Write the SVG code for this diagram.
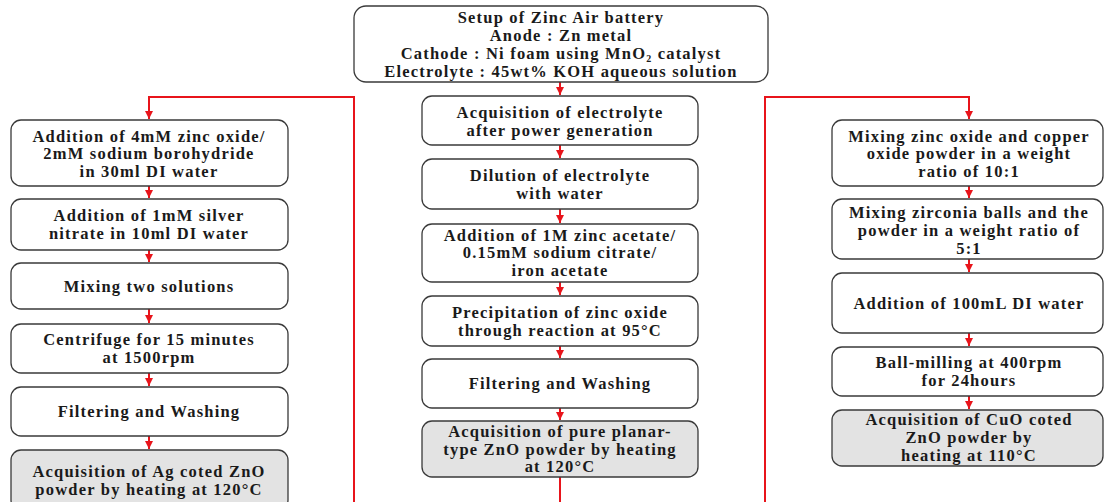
<svg xmlns="http://www.w3.org/2000/svg" width="1105" height="502" viewBox="0 0 1105 502">
<style>
.box{fill:#fff;stroke:#3a3a3a;stroke-width:1.3}
.fin{fill:#e3e3e3;stroke:#3a3a3a;stroke-width:1.3}
text{font-family:"Liberation Serif","Times New Roman",serif;font-weight:bold;font-size:16.5px;letter-spacing:1.2px;fill:#1a1a1a;text-anchor:middle}
.c{fill:none;stroke:#e8141b;stroke-width:2}
</style>
<defs>
<marker id="ah" viewBox="0 0 10 10" refX="10" refY="5" markerWidth="4" markerHeight="4" orient="auto" markerUnits="strokeWidth">
<path d="M0,0 L10,5 L0,10 z" fill="#e8141b"/>
</marker>
</defs>
<g id="connectors">
<path class="c" d="M560,82 V95" marker-end="url(#ah)"/>
<path class="c" d="M354,502 V97 H149 V119" marker-end="url(#ah)"/>
<path class="c" d="M765,502 V97 H969 V119" marker-end="url(#ah)"/>
<path class="c" d="M560,145 V158" marker-end="url(#ah)"/>
<path class="c" d="M560,209 V223" marker-end="url(#ah)"/>
<path class="c" d="M560,282 V295" marker-end="url(#ah)"/>
<path class="c" d="M560,346 V358" marker-end="url(#ah)"/>
<path class="c" d="M560,408 V420" marker-end="url(#ah)"/>
<path class="c" d="M560,477 V502"/>
<path class="c" d="M149,186 V198" marker-end="url(#ah)"/>
<path class="c" d="M149,250 V262" marker-end="url(#ah)"/>
<path class="c" d="M149,309 V323" marker-end="url(#ah)"/>
<path class="c" d="M149,373 V386" marker-end="url(#ah)"/>
<path class="c" d="M149,436 V449" marker-end="url(#ah)"/>
<path class="c" d="M969,186 V198" marker-end="url(#ah)"/>
<path class="c" d="M969,259 V272" marker-end="url(#ah)"/>
<path class="c" d="M969,333 V346" marker-end="url(#ah)"/>
<path class="c" d="M969,396 V409" marker-end="url(#ah)"/>
</g>
<g id="top">
<rect class="box" x="354" y="6" width="414" height="76" rx="12"/>
<text x="561" y="23">Setup of Zinc Air battery</text>
<text x="561" y="41">Anode : Zn metal</text>
<text x="561" y="59">Cathode : Ni foam using MnO<tspan font-size="10" dy="2.5">2</tspan><tspan dy="-2.5"> catalyst</tspan></text>
<text x="561" y="77">Electrolyte : 45wt% KOH aqueous solution</text>
</g>
<g id="m1"><rect class="box" x="422" y="96" width="276" height="49" rx="10"/>
<text x="560" y="118">Acquisition of electrolyte</text><text x="560" y="136">after power generation</text></g>
<g id="m2"><rect class="box" x="422" y="159" width="276" height="50" rx="10"/>
<text x="560" y="181">Dilution of electrolyte</text><text x="560" y="199">with water</text></g>
<g id="m3"><rect class="box" x="422" y="224" width="276" height="58" rx="10"/>
<text x="560" y="241">Addition of 1M zinc acetate/</text><text x="560" y="258">0.15mM sodium citrate/</text><text x="560" y="276">iron acetate</text></g>
<g id="m4"><rect class="box" x="422" y="296" width="276" height="50" rx="10"/>
<text x="560" y="318">Precipitation of zinc oxide</text><text x="560" y="336">through reaction at 95°C</text></g>
<g id="m5"><rect class="box" x="422" y="359" width="276" height="49" rx="10"/>
<text x="560" y="389">Filtering and Washing</text></g>
<g id="m6"><rect class="fin" x="422" y="421" width="276" height="56" rx="10"/>
<text x="560" y="437">Acquisition of pure planar-</text><text x="560" y="455">type ZnO powder by heating</text><text x="560" y="472">at 120°C</text></g>
<g id="l1"><rect class="box" x="11" y="120" width="277" height="66" rx="10"/>
<text x="149" y="142">Addition of 4mM zinc oxide/</text><text x="149" y="159">2mM sodium borohydride</text><text x="149" y="177">in 30ml DI water</text></g>
<g id="l2"><rect class="box" x="11" y="199" width="277" height="51" rx="10"/>
<text x="149" y="221">Addition of 1mM silver</text><text x="149" y="239">nitrate in 10ml DI water</text></g>
<g id="l3"><rect class="box" x="11" y="263" width="277" height="46" rx="10"/>
<text x="149" y="292">Mixing two solutions</text></g>
<g id="l4"><rect class="box" x="11" y="324" width="277" height="49" rx="10"/>
<text x="149" y="345">Centrifuge for 15 minutes</text><text x="149" y="363">at 1500rpm</text></g>
<g id="l5"><rect class="box" x="11" y="387" width="277" height="49" rx="10"/>
<text x="149" y="417">Filtering and Washing</text></g>
<g id="l6"><rect class="fin" x="11" y="450" width="277" height="60" rx="10"/>
<text x="149" y="477">Acquisition of Ag coted ZnO</text><text x="149" y="495">powder by heating at 120°C</text></g>
<g id="r1"><rect class="box" x="832" y="120" width="271" height="66" rx="10"/>
<text x="969" y="142">Mixing zinc oxide and copper</text><text x="969" y="159">oxide powder in a weight</text><text x="969" y="177">ratio of 10:1</text></g>
<g id="r2"><rect class="box" x="832" y="199" width="271" height="60" rx="10"/>
<text x="969" y="218">Mixing zirconia balls and the</text><text x="969" y="236">powder in a weight ratio of</text><text x="969" y="254">5:1</text></g>
<g id="r3"><rect class="box" x="832" y="273" width="271" height="60" rx="10"/>
<text x="969" y="309">Addition of 100mL DI water</text></g>
<g id="r4"><rect class="box" x="832" y="347" width="271" height="49" rx="10"/>
<text x="969" y="368">Ball-milling at 400rpm</text><text x="969" y="386">for 24hours</text></g>
<g id="r5"><rect class="fin" x="832" y="410" width="271" height="56" rx="10"/>
<text x="969" y="425">Acquisition of CuO coted</text><text x="969" y="443">ZnO powder by</text><text x="969" y="461">heating at 110°C</text></g>
</svg>
